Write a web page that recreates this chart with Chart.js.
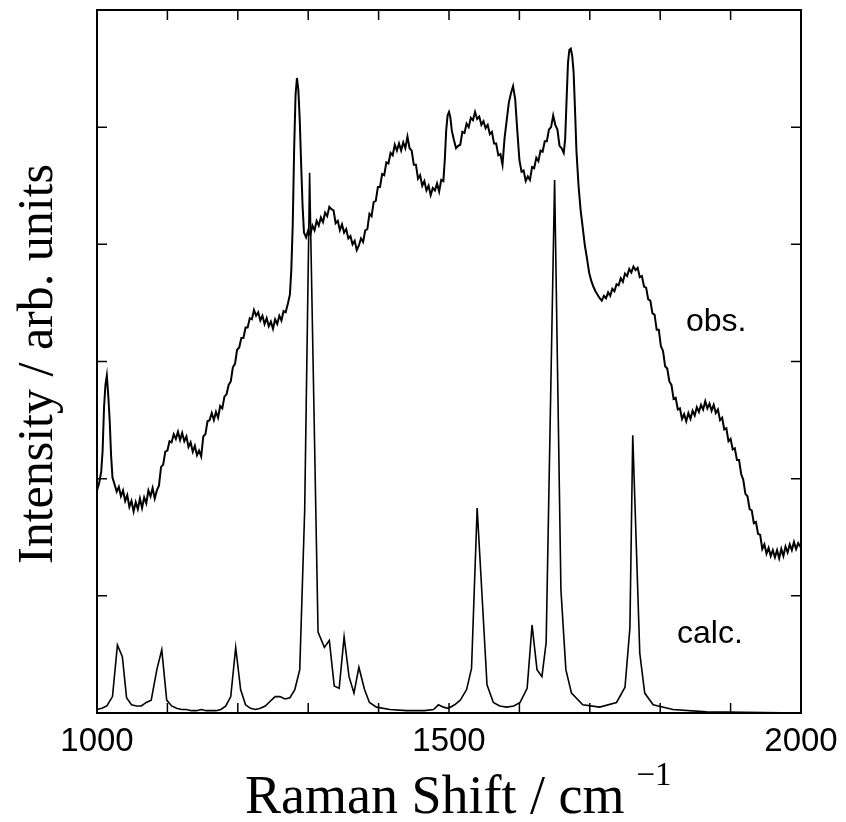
<!DOCTYPE html>
<html>
<head>
<meta charset="utf-8">
<script src="https://cdn.jsdelivr.net/npm/chart.js@4.4.1/dist/chart.umd.min.js"></script>
<style>
  html, body { margin: 0; padding: 0; background: #fff; }
  canvas { display: block; }
</style>
</head>
<body>
<canvas id="raman" width="846" height="822"></canvas>
<script>
// ---- data ----
// observed spectrum, Raman shift in cm-1
const obsShift = [
  1000,1003,1006,1008,1010,1012,1014,1016,1018,1020,
  1022,1025,1028,1031,1034,1037,1040,1043,1046,1049,
  1052,1055,1058,1061,1064,1067,1070,1073,1076,1079,
  1082,1085,1088,1091,1094,1097,1100,1103,1106,1109,
  1112,1115,1118,1121,1124,1127,1130,1133,1136,1139,
  1142,1145,1148,1151,1154,1157,1160,1163,1166,1169,
  1172,1175,1178,1181,1184,1187,1190,1193,1196,1199,
  1202,1205,1208,1211,1214,1217,1220,1223,1226,1229,
  1232,1235,1238,1241,1244,1247,1250,1253,1256,1259,
  1262,1265,1268,1271,1274,1276,1278,1280,1282,1284,
  1286,1288,1290,1292,1294,1297,1300,1303,1306,1309,
  1312,1315,1318,1321,1324,1327,1330,1333,1336,1339,
  1342,1345,1348,1351,1354,1357,1360,1363,1366,1369,
  1372,1375,1378,1381,1384,1387,1390,1393,1396,1399,
  1402,1405,1408,1411,1414,1417,1420,1423,1426,1429,
  1432,1435,1438,1441,1444,1447,1450,1453,1456,1459,
  1462,1465,1468,1471,1474,1477,1480,1483,1486,1489,
  1492,1494,1496,1498,1500,1502,1504,1507,1510,1513,
  1516,1519,1522,1525,1528,1531,1534,1537,1540,1543,
  1546,1549,1552,1555,1558,1561,1564,1567,1570,1573,
  1576,1579,1582,1585,1588,1591,1594,1597,1600,1603,
  1606,1609,1612,1615,1618,1621,1624,1627,1630,1633,
  1636,1639,1642,1645,1648,1651,1654,1657,1660,1663,
  1665,1667,1669,1671,1673,1675,1677,1679,1681,1684,
  1687,1690,1693,1696,1699,1702,1705,1708,1711,1714,
  1717,1720,1723,1726,1729,1732,1735,1738,1741,1744,
  1747,1750,1753,1756,1759,1762,1765,1768,1771,1774,
  1777,1780,1783,1786,1789,1792,1795,1798,1801,1804,
  1807,1810,1813,1816,1819,1822,1825,1828,1831,1834,
  1837,1840,1843,1846,1849,1852,1855,1858,1861,1864,
  1867,1870,1873,1876,1879,1882,1885,1888,1891,1894,
  1897,1900,1903,1906,1909,1912,1915,1918,1921,1924,
  1927,1930,1933,1936,1939,1942,1945,1948,1951,1954,
  1957,1960,1963,1966,1969,1972,1975,1978,1981,1984,
  1987,1990,1993,1996,2000
];
const obsIntensity = [
  1.90,1.96,2.06,2.24,2.61,2.80,2.88,2.71,2.50,2.20,
  2.01,1.95,1.89,1.93,1.85,1.90,1.81,1.86,1.76,1.81,
  1.72,1.80,1.74,1.83,1.75,1.84,1.79,1.90,1.85,1.92,
  1.83,1.90,1.94,2.10,2.12,2.23,2.24,2.32,2.31,2.38,
  2.34,2.40,2.33,2.39,2.32,2.36,2.27,2.31,2.23,2.28,
  2.20,2.24,2.19,2.36,2.38,2.49,2.50,2.56,2.50,2.57,
  2.52,2.62,2.60,2.70,2.72,2.80,2.83,2.95,2.98,3.10,
  3.12,3.20,3.20,3.29,3.29,3.37,3.36,3.44,3.39,3.42,
  3.35,3.39,3.32,3.37,3.30,3.34,3.28,3.36,3.32,3.39,
  3.35,3.43,3.42,3.49,3.57,3.78,4.16,4.80,5.27,5.42,
  5.32,5.06,4.68,4.33,4.10,4.06,4.12,4.08,4.16,4.12,
  4.20,4.16,4.23,4.19,4.27,4.24,4.32,4.30,4.29,4.18,
  4.20,4.12,4.17,4.10,4.13,4.05,4.07,4.00,4.03,3.95,
  3.99,4.05,4.02,4.12,4.13,4.26,4.24,4.36,4.37,4.49,
  4.49,4.60,4.59,4.70,4.69,4.78,4.76,4.85,4.80,4.86,
  4.80,4.87,4.82,4.92,4.82,4.80,4.68,4.68,4.56,4.59,
  4.50,4.54,4.46,4.50,4.42,4.48,4.46,4.52,4.45,4.55,
  4.54,4.72,4.97,5.10,5.13,5.08,4.97,4.89,4.82,4.84,
  4.85,4.96,4.95,5.03,5.00,5.08,5.06,5.13,5.07,5.09,
  5.02,5.05,4.99,5.02,4.94,4.96,4.86,4.86,4.76,4.77,
  4.68,4.91,5.06,5.21,5.29,5.35,5.24,4.97,4.72,4.62,
  4.63,4.54,4.58,4.55,4.66,4.65,4.74,4.71,4.80,4.79,
  4.88,4.88,4.98,5.00,5.10,5.02,4.98,4.84,4.82,4.78,
  4.90,5.23,5.55,5.66,5.67,5.61,5.47,5.15,4.80,4.50,
  4.29,4.14,3.99,3.88,3.76,3.69,3.64,3.60,3.57,3.54,
  3.52,3.56,3.54,3.59,3.56,3.62,3.60,3.66,3.65,3.71,
  3.68,3.75,3.73,3.79,3.76,3.81,3.78,3.80,3.72,3.73,
  3.64,3.63,3.53,3.52,3.41,3.40,3.27,3.27,3.13,3.09,
  2.96,2.94,2.83,2.80,2.68,2.69,2.59,2.60,2.51,2.55,
  2.49,2.56,2.51,2.58,2.54,2.61,2.57,2.63,2.59,2.66,
  2.60,2.64,2.58,2.63,2.56,2.59,2.50,2.52,2.42,2.43,
  2.32,2.34,2.25,2.26,2.16,2.16,2.04,1.99,1.87,1.85,
  1.74,1.73,1.62,1.63,1.53,1.52,1.40,1.44,1.36,1.41,
  1.34,1.39,1.33,1.39,1.32,1.40,1.34,1.42,1.37,1.44,
  1.39,1.46,1.40,1.45,1.41
];

// calculated spectrum
const calcShift = [
  1000,1007,1014,1022,1029,1036,1042,1049,1056,1063,
  1070,1077,1085,1092,1099,1106,1113,1120,1127,1134,
  1141,1148,1155,1162,1169,1176,1183,1190,1197,1204,
  1211,1218,1225,1232,1239,1246,1253,1260,1267,1274,
  1281,1288,1295,1302,1314,1323,1330,1337,1344,1351,
  1358,1365,1372,1380,1387,1397,1416,1440,1465,1478,
  1485,1492,1499,1508,1516,1525,1532,1540,1554,1563,
  1572,1582,1592,1601,1611,1618,1625,1632,1638,1650,
  1659,1666,1674,1690,1714,1738,1750,1757,1761,1771,
  1778,1790,1818,1866,1920,2000
];
const calcIntensity = [
  0.03,0.04,0.06,0.14,0.58,0.48,0.13,0.07,0.06,0.06,
  0.09,0.11,0.37,0.54,0.11,0.06,0.04,0.03,0.03,0.02,
  0.02,0.03,0.02,0.02,0.02,0.03,0.06,0.14,0.56,0.20,
  0.07,0.04,0.03,0.04,0.06,0.10,0.14,0.14,0.12,0.13,
  0.20,0.37,1.73,4.61,0.69,0.56,0.62,0.23,0.21,0.65,
  0.31,0.17,0.39,0.20,0.09,0.05,0.03,0.02,0.02,0.03,
  0.07,0.05,0.04,0.07,0.11,0.20,0.38,1.75,0.24,0.09,
  0.06,0.05,0.06,0.09,0.21,0.75,0.37,0.31,0.60,4.55,
  1.05,0.37,0.17,0.07,0.05,0.09,0.22,0.73,2.37,0.51,
  0.17,0.07,0.03,0.01,0.005,0.00
];

// axes
const xTickValues = [1000,1100,1200,1300,1400,1500,1600,1700,1800,1900,2000];
const xLabelValues = [1000,1500,2000];
const yTickValues = [1,2,3,4,5];

// texts
const xTitle = 'Raman Shift / cm';
const xTitleSup = '\u22121';
const yTitle = 'Intensity / arb. units';
const seriesLabels = ['obs.', 'calc.'];

// ---- frame, inward ticks, titles ----
const SERIF = '"Liberation Serif", "Times New Roman", serif';
const SANS = '"Liberation Sans", Arial, sans-serif';

const axisFrame = {
  id: 'axisFrame',
  afterDatasetsDraw(chart) {
    const { ctx, chartArea: a, scales: { x, y } } = chart;
    ctx.save();
    ctx.strokeStyle = '#000';
    ctx.fillStyle = '#000';

    ctx.lineWidth = 2;
    ctx.strokeRect(a.left, a.top, a.right - a.left, a.bottom - a.top);

    ctx.lineWidth = 1.5;
    ctx.beginPath();
    xTickValues.forEach(v => {
      const px = x.getPixelForValue(v);
      ctx.moveTo(px, a.bottom); ctx.lineTo(px, a.bottom - 10);
      ctx.moveTo(px, a.top);    ctx.lineTo(px, a.top + 10);
    });
    yTickValues.forEach(v => {
      const py = y.getPixelForValue(v);
      ctx.moveTo(a.left, py);  ctx.lineTo(a.left + 10, py);
      ctx.moveTo(a.right, py); ctx.lineTo(a.right - 10, py);
    });
    ctx.stroke();

    // tick labels
    ctx.font = '33px ' + SANS;
    ctx.textAlign = 'center';
    ctx.textBaseline = 'alphabetic';
    xLabelValues.forEach(v => ctx.fillText(String(v), x.getPixelForValue(v), 751));

    // series labels
    ctx.font = '32px ' + SANS;
    ctx.textAlign = 'left';
    ctx.fillText(seriesLabels[0], 686, 331);
    ctx.fillText(seriesLabels[1], 677, 643);

    // x title with superscript
    ctx.font = '54px ' + SERIF;
    ctx.fillText(xTitle, 245, 813);
    const w = ctx.measureText(xTitle).width;
    ctx.font = '33px ' + SERIF;
    ctx.fillText(xTitleSup, 245 + w + 12, 785);

    // y title, rotated
    ctx.translate(52, 364);
    ctx.rotate(-Math.PI / 2);
    ctx.textAlign = 'center';
    ctx.font = '50px ' + SERIF;
    ctx.fillText(yTitle, 0, 0);
    ctx.restore();
  }
};

const ctxRaman = document.getElementById('raman').getContext('2d');
const ramanChart = new Chart(ctxRaman, {
  type: 'line',
  data: {
    datasets: [
      { label: seriesLabels[0], data: obsShift.map((s, i) => ({ x: s, y: obsIntensity[i] })),
        borderColor: '#000', borderWidth: 2, pointRadius: 0, tension: 0, fill: false },
      { label: seriesLabels[1], data: calcShift.map((s, i) => ({ x: s, y: calcIntensity[i] })),
        borderColor: '#000', borderWidth: 1.6, pointRadius: 0, tension: 0, fill: false }
    ]
  },
  options: {
    responsive: false, animation: false, devicePixelRatio: 1,
    layout: { padding: { left: 97, right: 45, top: 10, bottom: 109 } },
    scales: {
      x: { type: 'linear', min: 1000, max: 2000, display: false },
      y: { min: 0, max: 6, display: false }
    },
    plugins: { legend: { display: false }, tooltip: { enabled: false } }
  },
  plugins: [axisFrame]
});
</script>
</body>
</html>
